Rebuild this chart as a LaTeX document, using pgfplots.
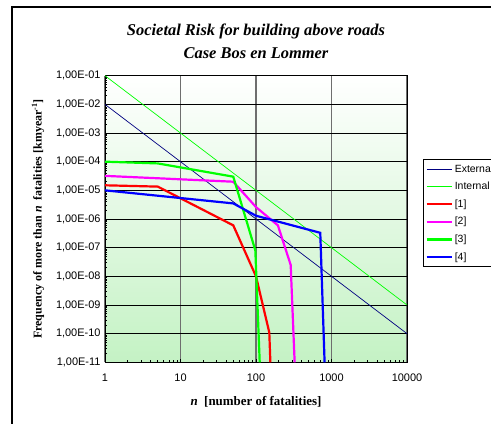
\documentclass[border=0pt]{standalone}
\usepackage{fontspec}
\setmainfont{Liberation Serif}
\newfontfamily\arial{Liberation Sans}
\usepackage{pgfplots}
\pgfplotsset{compat=1.18}
\definecolor{navyc}{RGB}{0,0,128}
\definecolor{magc}{RGB}{255,0,255}
\definecolor{grc}{RGB}{0,255,0}
\definecolor{bggreen}{RGB}{196,242,196}
\definecolor{gridgray}{RGB}{110,110,110}
\begin{document}
\begin{tikzpicture}
\useasboundingbox (0,0) rectangle (491bp,424bp);
\begin{scope}
\clip (0,0) rectangle (491bp,424bp);
\fill[white] (0,0) rectangle (491bp,424bp);
\draw[line width=1.1bp] (12bp,-20bp) rectangle (540bp,417bp);
\begin{axis}[
  at={(105bp,61.7bp)}, anchor=south west,
  scale only axis, width=302bp, height=286.6bp,
  xmode=log, ymode=log,
  xmin=1, xmax=10000, ymin=1e-11, ymax=1e-1,
  xtick={1,10,100,1000,10000},
  xticklabels={1,10,100,1000,10000},
  ytick={1e-11,1e-10,1e-9,1e-8,1e-7,1e-6,1e-5,1e-4,1e-3,1e-2,1e-1},
  yticklabels={{1,00E-11},{1,00E-10},{1,00E-09},{1,00E-08},{1,00E-07},{1,00E-06},{1,00E-05},{1,00E-04},{1,00E-03},{1,00E-02},{1,00E-01}},
  tick label style={font=\arial\fontsize{11}{12}\selectfont},
  /pgf/number format/assume math mode=true,
  xticklabel style={yshift=-8bp},
  yticklabel style={xshift=-1bp},
  tick align=inside,
  tick pos=left,
  major tick length=3bp, minor tick length=2.5bp,
  every tick/.style={black, line width=0.6bp},
  grid=major,
  x grid style={gridgray, line width=1.4bp},
  y grid style={black, line width=0.8bp},
  axis line style={black, line width=1bp},
  axis background/.style={top color=white, bottom color=bggreen},
  clip=true,
  legend style={at={(1.054,0.708)}, anchor=north west, draw=black, line width=0.6bp,
    fill=white, font=\arial\fontsize{10.5}{11}\selectfont, row sep=4.5bp,
    inner xsep=2bp, inner ysep=3bp},
  legend cell align=left,
  legend image code/.code={\draw[#1] (0bp,0bp) -- (25bp,0bp);},
]
\addplot[navyc, line width=0.7bp] coordinates {(1,1e-2) (10000,1e-10)};
\addlegendentry{External}
\addplot[grc, line width=0.7bp] coordinates {(1,1e-1) (10000,1e-9)};
\addlegendentry{Internal}
\addplot[red, line width=2.2bp] coordinates {(1,1.5e-5) (5,1.35e-5) (50,6e-7) (100,1e-8) (150,1.1e-10) (155,1e-11)};
\addlegendentry{[1]}
\addplot[magc, line width=2.2bp] coordinates {(1,3.2e-5) (50,2e-5) (100,2.6e-6) (195,6e-7) (288,2.5e-8) (325,1e-11)};
\addlegendentry{[2]}
\addplot[grc, line width=2.2bp] coordinates {(1,1e-4) (5,8.7e-5) (50,3e-5) (98,8e-8) (112,1e-11)};
\addlegendentry{[3]}
\addplot[blue, line width=2.2bp] coordinates {(1,1e-5) (50,3.5e-6) (100,1.3e-6) (710,3.3e-7) (810,1e-11)};
\addlegendentry{[4]}
\end{axis}
\node[font=\bfseries\itshape\fontsize{16.5}{18}\selectfont] at (256bp,392.3bp) {Societal Risk for building above roads};
\node[font=\bfseries\itshape\fontsize{16.5}{18}\selectfont] at (256bp,371bp) {Case Bos en Lommer};
\node[font=\bfseries\fontsize{13}{15}\selectfont] at (256bp,22bp) {\textit{n}\enspace[number of fatalities]};
\node[font=\bfseries\fontsize{12}{14}\selectfont, rotate=90] at (38bp,205bp) {Frequency of more than \textit{n}\enspace fatalities [kmyear\textsuperscript{-1}]};
\end{scope}
\end{tikzpicture}
\end{document}
